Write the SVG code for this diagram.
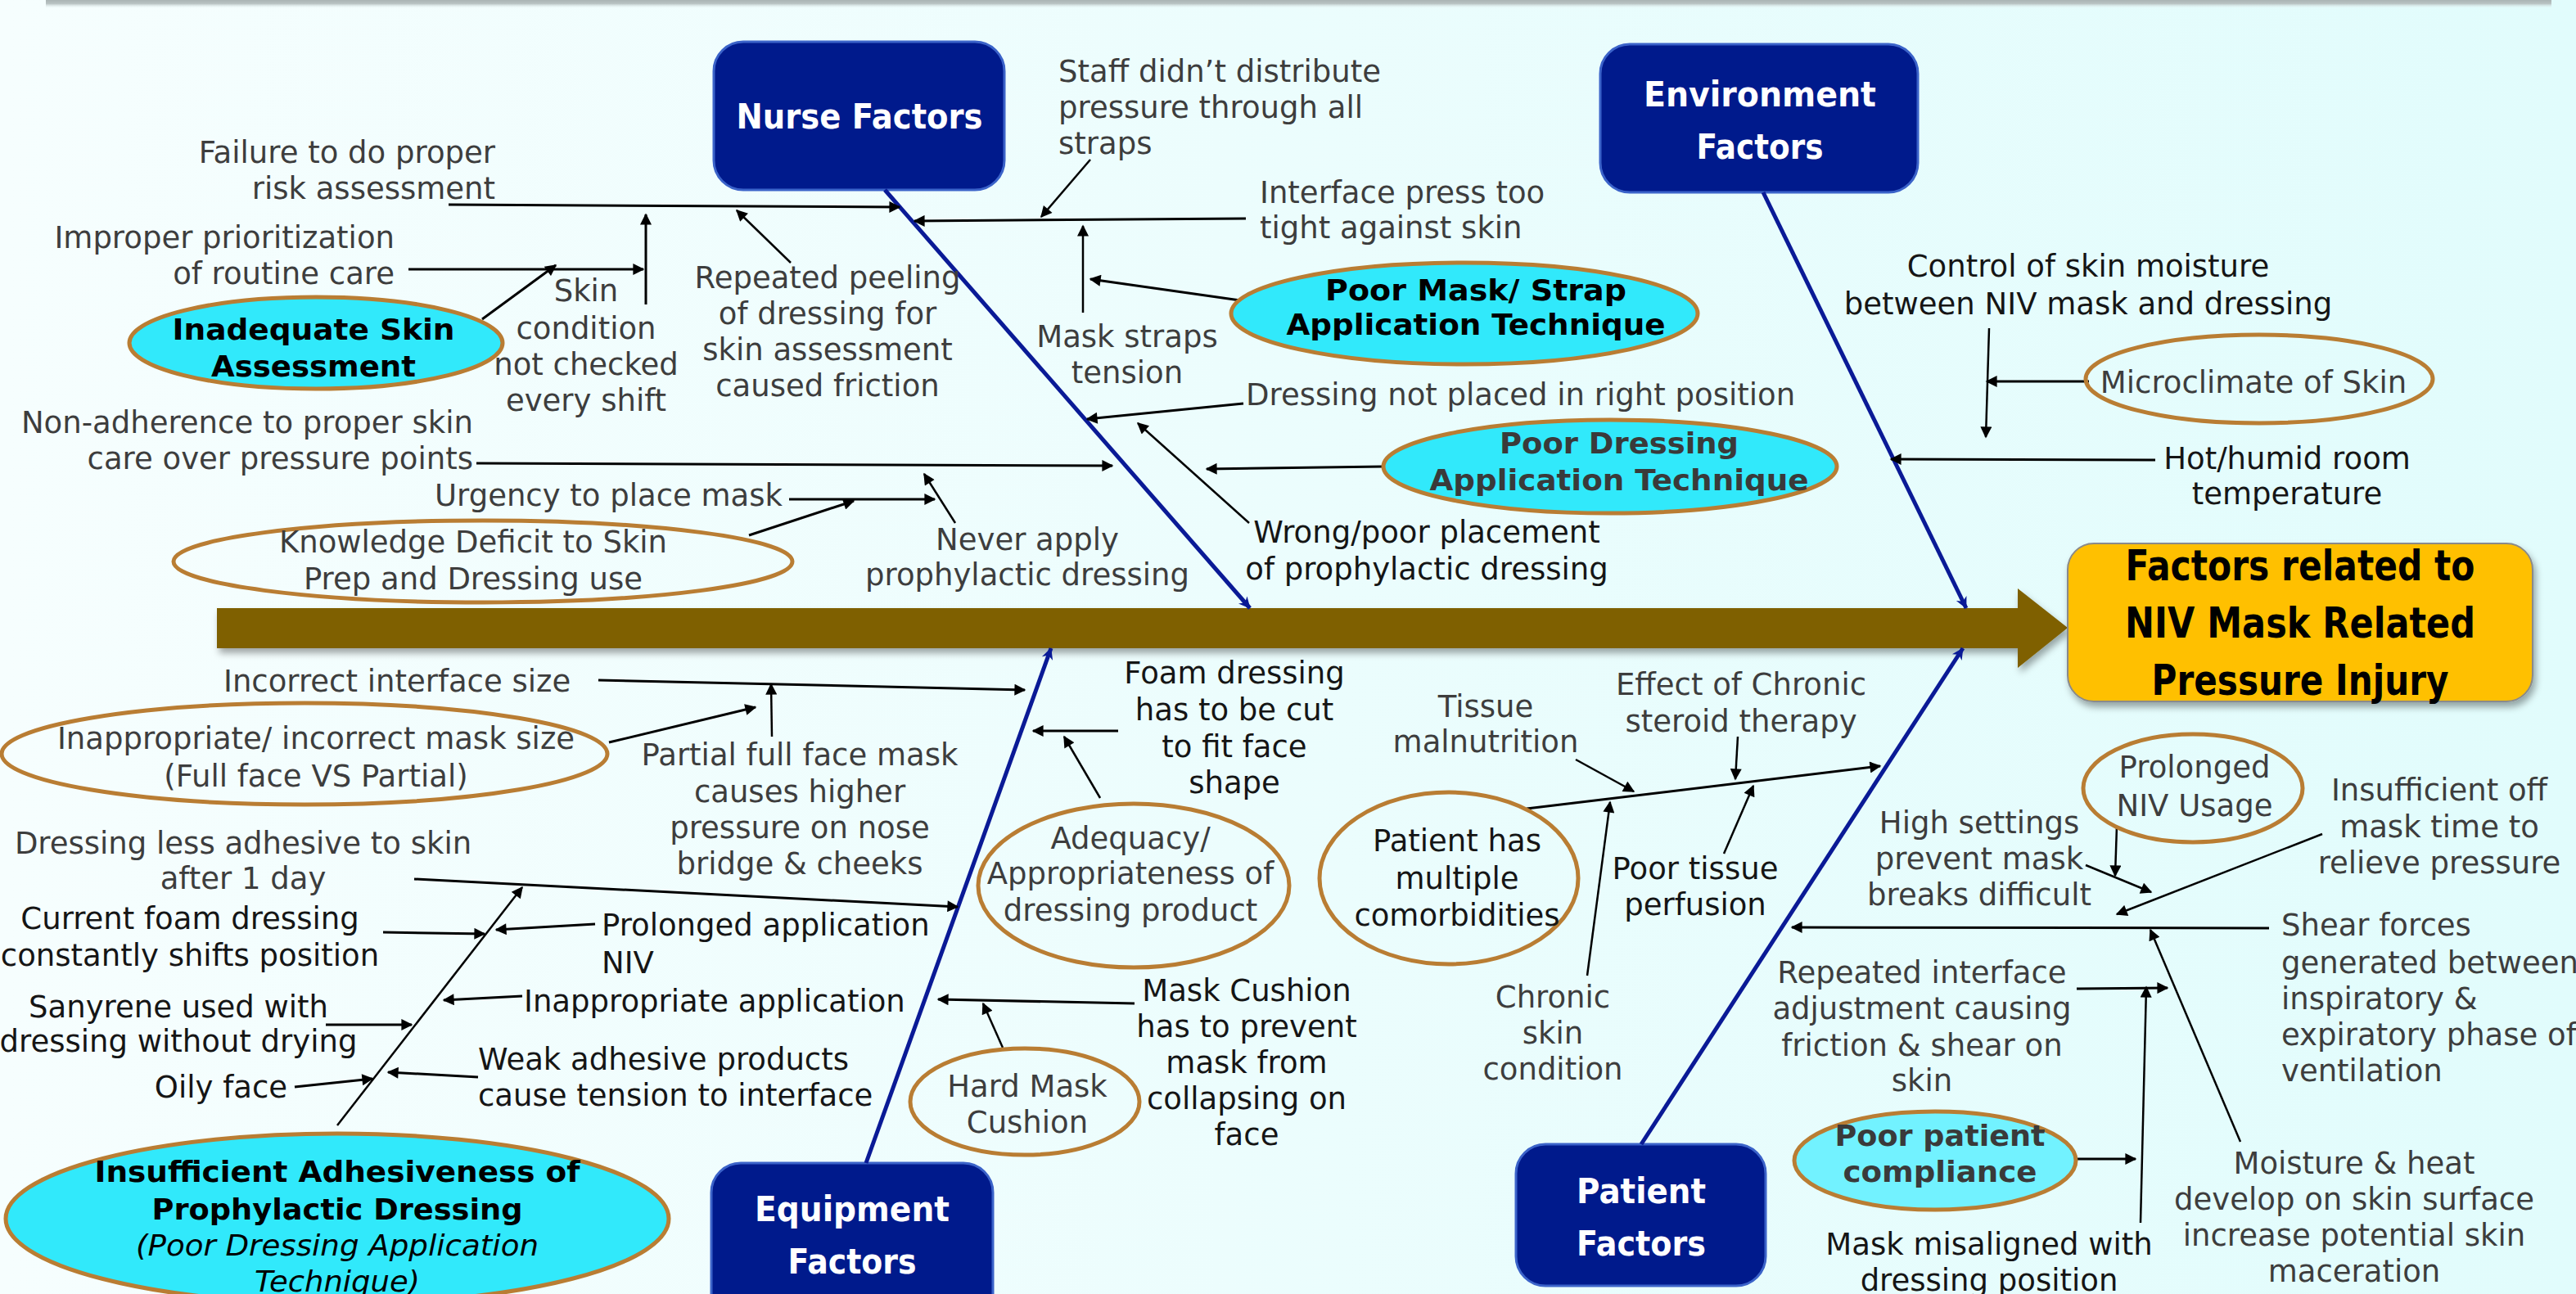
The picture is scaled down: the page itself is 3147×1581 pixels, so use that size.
<svg xmlns="http://www.w3.org/2000/svg" width="3147" height="1581" viewBox="0 0 3147 1581">
<defs>
<linearGradient id="bg" x1="0" y1="0" x2="1" y2="0">
<stop offset="0" stop-color="#F6FEFE"/>
<stop offset="1" stop-color="#E1FCFC"/>
</linearGradient>
<linearGradient id="topbar" x1="0" y1="0" x2="0" y2="1">
<stop offset="0" stop-color="#9EA8A8"/>
<stop offset="0.6" stop-color="#B8C2C2"/>
<stop offset="1" stop-color="#E8F6F6" stop-opacity="0"/>
</linearGradient>
<filter id="sh" x="-5%" y="-20%" width="110%" height="150%">
<feDropShadow dx="3" dy="6" stdDeviation="4" flood-color="#000" flood-opacity="0.35"/>
</filter>
<marker id="ah" viewBox="0 0 10 10" refX="9" refY="5" markerWidth="16" markerHeight="14" markerUnits="userSpaceOnUse" orient="auto">
<path d="M0,0 L10,5 L0,10 z" fill="#000"/>
</marker>
<marker id="bh" viewBox="0 0 10 10" refX="9.5" refY="5" markerWidth="18" markerHeight="14" markerUnits="userSpaceOnUse" orient="auto">
<path d="M0,0 L10,5 L0,10 L3,5 z" fill="#0A1A96"/>
</marker>
<style>
.t{font-family:"DejaVu Sans","Liberation Sans",sans-serif;font-size:37px;fill:#3D3D3D}
.k{fill:#151515}
.m{text-anchor:middle}
.e{text-anchor:end}
.b{font-family:"DejaVu Sans","Liberation Sans",sans-serif;font-weight:bold;font-size:36px;fill:#000;text-anchor:middle}
.bg2{fill:#3A3A3A}
.i{font-family:"DejaVu Sans","Liberation Sans",sans-serif;font-style:italic;font-size:36px;fill:#000;text-anchor:middle}
.cat{font-family:"DejaVu Sans","Liberation Sans",sans-serif;font-weight:bold;font-size:42px;fill:#FFF;text-anchor:middle}
.catbox{fill:#001A8C;stroke:#3B63C9;stroke-width:3}
.ln{stroke:#000;stroke-width:3;fill:none;marker-end:url(#ah)}
.thin{stroke-width:2.5}
.bone{stroke:#0A1A96;stroke-width:5;fill:none;marker-end:url(#bh)}
.elc{fill:#31E9FB;stroke:#B97D33;stroke-width:5}
.elo{fill:none;stroke:#B97D33;stroke-width:5}
.ell{fill:#72F2FF;stroke:#B97D33;stroke-width:5}
</style>
</defs>
<rect x="0" y="0" width="3147" height="1581" fill="url(#bg)"/>
<rect x="56" y="-4" width="3061" height="14" fill="url(#topbar)"/>

<g id="spine">
<polygon points="265,743 2465,743 2465,719 2526,767 2465,816 2465,792 265,792" fill="#7F6000" filter="url(#sh)"/>
</g>

<g id="effect">
<rect x="2526" y="664" width="568" height="193" rx="32" fill="#FFC000" stroke="#8A8A8A" stroke-width="2" filter="url(#sh)"/>
<text class="b" style="font-size:52px" x="2810" y="709" textLength="427" lengthAdjust="spacingAndGlyphs">Factors related to</text>
<text class="b" style="font-size:52px" x="2810" y="779" textLength="428" lengthAdjust="spacingAndGlyphs">NIV Mask Related</text>
<text class="b" style="font-size:52px" x="2810" y="849" textLength="363" lengthAdjust="spacingAndGlyphs">Pressure Injury</text>
</g>

<g id="nurse-factors">
<rect class="catbox" x="872" y="51" width="355" height="181" rx="36"/>
<text class="cat" x="1050" y="157" textLength="301" lengthAdjust="spacingAndGlyphs">Nurse Factors</text>
</g>
<g id="environment-factors">
<rect class="catbox" x="1955" y="54" width="388" height="181" rx="36"/>
<text class="cat" x="2150" y="130" textLength="284" lengthAdjust="spacingAndGlyphs">Environment</text>
<text class="cat" x="2150" y="194" textLength="155" lengthAdjust="spacingAndGlyphs">Factors</text>
</g>
<g id="equipment-factors">
<rect class="catbox" x="869" y="1421" width="344" height="200" rx="36"/>
<text class="cat" x="1041" y="1492" textLength="238" lengthAdjust="spacingAndGlyphs">Equipment</text>
<text class="cat" x="1041" y="1556" textLength="157" lengthAdjust="spacingAndGlyphs">Factors</text>
</g>
<g id="patient-factors">
<rect class="catbox" x="1852" y="1398" width="305" height="173" rx="36"/>
<text class="cat" x="2005" y="1470" textLength="158" lengthAdjust="spacingAndGlyphs">Patient</text>
<text class="cat" x="2005" y="1534" textLength="158" lengthAdjust="spacingAndGlyphs">Factors</text>
</g>

<g id="connectors">
<line class="bone" x1="1081" y1="232" x2="1527" y2="743"/>
<line class="bone" x1="2154" y1="235" x2="2402" y2="743"/>
<line class="bone" x1="1058" y1="1421" x2="1284" y2="792"/>
<line class="bone" x1="2005" y1="1398" x2="2398" y2="792"/>
<line class="ln" x1="548" y1="250" x2="1099" y2="253"/>
<line class="ln" x1="499" y1="329" x2="786" y2="329"/>
<line class="ln" x1="789" y1="372" x2="789" y2="262"/>
<line class="ln" x1="589" y1="390" x2="679" y2="324"/>
<line class="ln thin" x1="966" y1="321" x2="900" y2="257"/>
<line class="ln" x1="1522" y1="267" x2="1117" y2="270"/>
<line class="ln thin" x1="1332" y1="195" x2="1272" y2="265"/>
<line class="ln thin" x1="1323" y1="382" x2="1323" y2="276"/>
<line class="ln" x1="1522" y1="368" x2="1332" y2="341"/>
<line class="ln" x1="1519" y1="493" x2="1328" y2="512"/>
<line class="ln thin" x1="1526" y1="639" x2="1390" y2="517"/>
<line class="ln" x1="1690" y1="570" x2="1474" y2="573"/>
<line class="ln" x1="582" y1="566" x2="1359" y2="569"/>
<line class="ln" x1="964" y1="610" x2="1142" y2="610"/>
<line class="ln" x1="915" y1="654" x2="1043" y2="612"/>
<line class="ln thin" x1="1167" y1="639" x2="1129" y2="579"/>
<line class="ln thin" x1="2430" y1="401" x2="2426" y2="534"/>
<line class="ln" x1="2552" y1="466" x2="2427" y2="466"/>
<line class="ln" x1="2633" y1="562" x2="2310" y2="561"/>
<line class="ln" x1="731" y1="831" x2="1252" y2="843"/>
<line class="ln thin" x1="943" y1="900" x2="942" y2="836"/>
<line class="ln" x1="744" y1="907" x2="923" y2="864"/>
<line class="ln" x1="1366" y1="893" x2="1262" y2="893"/>
<line class="ln thin" x1="1344" y1="975" x2="1300" y2="900"/>
<line class="ln" x1="506" y1="1074" x2="1170" y2="1108"/>
<line class="ln thin" x1="412" y1="1375" x2="638" y2="1084"/>
<line class="ln" x1="468" y1="1139" x2="592" y2="1141"/>
<line class="ln" x1="727" y1="1129" x2="606" y2="1136"/>
<line class="ln" x1="398" y1="1252" x2="503" y2="1252"/>
<line class="ln" x1="638" y1="1217" x2="542" y2="1222"/>
<line class="ln" x1="360" y1="1328" x2="455" y2="1318"/>
<line class="ln" x1="584" y1="1316" x2="474" y2="1310"/>
<line class="ln" x1="1386" y1="1226" x2="1146" y2="1221"/>
<line class="ln thin" x1="1225" y1="1280" x2="1201" y2="1226"/>
<line class="ln thin" x1="1925" y1="928" x2="1996" y2="967"/>
<line class="ln" x1="1865" y1="988" x2="2297" y2="936"/>
<line class="ln thin" x1="2123" y1="900" x2="2120" y2="952"/>
<line class="ln thin" x1="2106" y1="1043" x2="2142" y2="960"/>
<line class="ln thin" x1="1939" y1="1192" x2="1967" y2="980"/>
<line class="ln thin" x1="2586" y1="1009" x2="2584" y2="1070"/>
<line class="ln thin" x1="2548" y1="1057" x2="2628" y2="1090"/>
<line class="ln thin" x1="2837" y1="1019" x2="2586" y2="1117"/>
<line class="ln" x1="2772" y1="1134" x2="2189" y2="1133"/>
<line class="ln thin" x1="2737" y1="1395" x2="2627" y2="1136"/>
<line class="ln" x1="2537" y1="1208" x2="2648" y2="1207"/>
<line class="ln thin" x1="2615" y1="1494" x2="2622" y2="1206"/>
<line class="ln" x1="2536" y1="1416" x2="2609" y2="1416"/>
</g>

<g id="failure-risk">
<text class="t e" x="605" y="199">Failure to do proper</text>
<text class="t e" x="605" y="243">risk assessment</text>
</g>
<g id="improper-prioritization">
<text class="t e" x="482" y="303">Improper prioritization</text>
<text class="t e" x="482" y="347">of routine care</text>
</g>
<g id="inadequate-skin-assessment">
<ellipse class="elc" cx="386" cy="419" rx="228" ry="56"/>
<text class="b" x="383" y="415" textLength="345" lengthAdjust="spacingAndGlyphs">Inadequate Skin</text>
<text class="b" x="383" y="460" textLength="250" lengthAdjust="spacingAndGlyphs">Assessment</text>
</g>
<g id="skin-not-checked">
<text class="t m" x="716" y="368">Skin</text>
<text class="t m" x="716" y="414">condition</text>
<text class="t m" x="716" y="458">not checked</text>
<text class="t m" x="716" y="502">every shift</text>
</g>
<g id="repeated-peeling">
<text class="t m" x="1011" y="352">Repeated peeling</text>
<text class="t m" x="1011" y="396">of dressing for</text>
<text class="t m" x="1011" y="440">skin assessment</text>
<text class="t m" x="1011" y="484">caused friction</text>
</g>
<g id="staff-straps">
<text class="t" x="1293" y="100">Staff didn’t distribute</text>
<text class="t" x="1293" y="144">pressure through all</text>
<text class="t" x="1293" y="188">straps</text>
</g>
<g id="interface-tight">
<text class="t" x="1539" y="248">Interface press too</text>
<text class="t" x="1539" y="291">tight against skin</text>
</g>
<g id="mask-straps-tension">
<text class="t m" x="1377" y="424">Mask straps</text>
<text class="t m" x="1377" y="468">tension</text>
</g>
<g id="poor-mask-strap">
<ellipse class="elc" cx="1789" cy="383" rx="285" ry="62"/>
<text class="b" style="font-size:35px" x="1803" y="367" textLength="368" lengthAdjust="spacingAndGlyphs">Poor Mask/ Strap</text>
<text class="b" style="font-size:35px" x="1803" y="409" textLength="463" lengthAdjust="spacingAndGlyphs">Application Technique</text>
</g>
<g id="dressing-not-placed">
<text class="t" x="1522" y="495">Dressing not placed in right position</text>
</g>
<g id="poor-dressing-technique">
<ellipse class="elc" cx="1967" cy="570" rx="277" ry="57"/>
<text class="b bg2" style="font-size:35px" x="1978" y="554" textLength="292" lengthAdjust="spacingAndGlyphs">Poor Dressing</text>
<text class="b bg2" style="font-size:35px" x="1978" y="599" textLength="463" lengthAdjust="spacingAndGlyphs">Application Technique</text>
</g>
<g id="wrong-placement">
<text class="t k m" x="1743" y="663">Wrong/poor placement</text>
<text class="t k m" x="1743" y="708">of prophylactic dressing</text>
</g>
<g id="non-adherence">
<text class="t e" x="578" y="529">Non-adherence to proper skin</text>
<text class="t e" x="578" y="573">care over pressure points</text>
</g>
<g id="urgency">
<text class="t" x="531" y="618">Urgency to place mask</text>
</g>
<g id="knowledge-deficit">
<ellipse class="elo" cx="590" cy="686" rx="378" ry="50"/>
<text class="t m" x="578" y="675">Knowledge Deficit to Skin</text>
<text class="t m" x="578" y="720">Prep and Dressing use</text>
</g>
<g id="never-apply">
<text class="t m" x="1255" y="672">Never apply</text>
<text class="t m" x="1255" y="715">prophylactic dressing</text>
</g>

<g id="control-moisture">
<text class="t k m" x="2551" y="338">Control of skin moisture</text>
<text class="t k m" x="2551" y="384">between NIV mask and dressing</text>
</g>
<g id="microclimate">
<ellipse class="elo" cx="2760" cy="463" rx="212" ry="54"/>
<text class="t m" x="2753" y="480">Microclimate of Skin</text>
</g>
<g id="hot-humid">
<text class="t k m" x="2794" y="573">Hot/humid room</text>
<text class="t k m" x="2794" y="616">temperature</text>
</g>

<g id="incorrect-interface">
<text class="t" x="273" y="845">Incorrect interface size</text>
</g>
<g id="inappropriate-mask-size">
<ellipse class="elo" cx="372" cy="921" rx="370" ry="62"/>
<text class="t m" x="386" y="915">Inappropriate/ incorrect mask size</text>
<text class="t m" x="386" y="961">(Full face VS Partial)</text>
</g>
<g id="partial-full-face">
<text class="t m" x="977" y="935">Partial full face mask</text>
<text class="t m" x="977" y="980">causes higher</text>
<text class="t m" x="977" y="1024">pressure on nose</text>
<text class="t m" x="977" y="1068">bridge &amp; cheeks</text>
</g>
<g id="foam-cut">
<text class="t k m" x="1508" y="835">Foam dressing</text>
<text class="t k m" x="1508" y="880">has to be cut</text>
<text class="t k m" x="1508" y="925">to fit face</text>
<text class="t k m" x="1508" y="969">shape</text>
</g>
<g id="adequacy">
<ellipse class="elo" cx="1385" cy="1082" rx="190" ry="100"/>
<text class="t m" x="1381" y="1037">Adequacy/</text>
<text class="t m" x="1381" y="1080">Appropriateness of</text>
<text class="t m" x="1381" y="1125">dressing product</text>
</g>
<g id="less-adhesive">
<text class="t m" x="297" y="1043">Dressing less adhesive to skin</text>
<text class="t m" x="297" y="1086">after 1 day</text>
</g>
<g id="foam-shifts">
<text class="t k m" x="232" y="1135">Current foam dressing</text>
<text class="t k m" x="232" y="1180">constantly shifts position</text>
</g>
<g id="prolonged-application">
<text class="t k" x="735" y="1143">Prolonged application</text>
<text class="t k" x="735" y="1189">NIV</text>
</g>
<g id="sanyrene">
<text class="t k m" x="218" y="1243">Sanyrene used with</text>
<text class="t k m" x="218" y="1285">dressing without drying</text>
</g>
<g id="inappropriate-application">
<text class="t k" x="640" y="1236">Inappropriate application</text>
</g>
<g id="oily-face">
<text class="t k e" x="351" y="1341">Oily face</text>
</g>
<g id="weak-adhesive">
<text class="t k" x="584" y="1307">Weak adhesive products</text>
<text class="t k" x="584" y="1351">cause tension to interface</text>
</g>
<g id="insufficient-adhesiveness">
<ellipse class="elc" cx="412" cy="1489" rx="405" ry="104"/>
<text class="b" x="412" y="1444" textLength="593" lengthAdjust="spacingAndGlyphs">Insufficient Adhesiveness of</text>
<text class="b" x="412" y="1490" textLength="453" lengthAdjust="spacingAndGlyphs">Prophylactic Dressing</text>
<text class="i" x="412" y="1534" textLength="492" lengthAdjust="spacingAndGlyphs">(Poor Dressing Application</text>
<text class="i" x="412" y="1578" textLength="202" lengthAdjust="spacingAndGlyphs">Technique)</text>
</g>
<g id="mask-cushion">
<text class="t k m" x="1523" y="1223">Mask Cushion</text>
<text class="t k m" x="1523" y="1267">has to prevent</text>
<text class="t k m" x="1523" y="1311">mask from</text>
<text class="t k m" x="1523" y="1355">collapsing on</text>
<text class="t k m" x="1523" y="1399">face</text>
</g>
<g id="hard-mask-cushion">
<ellipse class="elo" cx="1252" cy="1346" rx="140" ry="65"/>
<text class="t m" x="1255" y="1340">Hard Mask</text>
<text class="t m" x="1255" y="1384">Cushion</text>
</g>

<g id="tissue-malnutrition">
<text class="t m" x="1815" y="876">Tissue</text>
<text class="t m" x="1815" y="919">malnutrition</text>
</g>
<g id="steroid">
<text class="t m" x="2127" y="849">Effect of Chronic</text>
<text class="t m" x="2127" y="894">steroid therapy</text>
</g>
<g id="poor-perfusion">
<text class="t k m" x="2071" y="1074">Poor tissue</text>
<text class="t k m" x="2071" y="1118">perfusion</text>
</g>
<g id="comorbidities">
<ellipse class="elo" cx="1770" cy="1073" rx="158" ry="105"/>
<text class="t k m" x="1780" y="1040">Patient has</text>
<text class="t k m" x="1780" y="1086">multiple</text>
<text class="t k m" x="1780" y="1131">comorbidities</text>
</g>
<g id="chronic-skin">
<text class="t m" x="1897" y="1231">Chronic</text>
<text class="t m" x="1897" y="1275">skin</text>
<text class="t m" x="1897" y="1319">condition</text>
</g>
<g id="prolonged-niv">
<ellipse class="elo" cx="2679" cy="963" rx="134" ry="66"/>
<text class="t m" x="2681" y="950">Prolonged</text>
<text class="t m" x="2681" y="997">NIV Usage</text>
</g>
<g id="high-settings">
<text class="t m" x="2418" y="1018">High settings</text>
<text class="t m" x="2418" y="1062">prevent mask</text>
<text class="t m" x="2418" y="1106">breaks difficult</text>
</g>
<g id="insufficient-off">
<text class="t m" x="2980" y="978">Insufficient off</text>
<text class="t m" x="2980" y="1023">mask time to</text>
<text class="t m" x="2980" y="1067">relieve pressure</text>
</g>
<g id="shear-forces">
<text class="t" x="2787" y="1143">Shear forces</text>
<text class="t" x="2787" y="1189">generated between</text>
<text class="t" x="2787" y="1233">inspiratory &amp;</text>
<text class="t" x="2787" y="1277">expiratory phase of</text>
<text class="t" x="2787" y="1321">ventilation</text>
</g>
<g id="repeated-interface">
<text class="t m" x="2348" y="1201">Repeated interface</text>
<text class="t m" x="2348" y="1245">adjustment causing</text>
<text class="t m" x="2348" y="1290">friction &amp; shear on</text>
<text class="t m" x="2348" y="1333">skin</text>
</g>
<g id="poor-compliance">
<ellipse class="ell" cx="2364" cy="1418" rx="172" ry="60"/>
<text class="b bg2" style="font-size:35px" x="2370" y="1400" textLength="257" lengthAdjust="spacingAndGlyphs">Poor patient</text>
<text class="b bg2" style="font-size:35px" x="2370" y="1444" textLength="237" lengthAdjust="spacingAndGlyphs">compliance</text>
</g>
<g id="mask-misaligned">
<text class="t k m" x="2430" y="1533">Mask misaligned with</text>
<text class="t k m" x="2430" y="1577">dressing position</text>
</g>
<g id="moisture-heat">
<text class="t m" x="2876" y="1434">Moisture &amp; heat</text>
<text class="t m" x="2876" y="1478">develop on skin surface</text>
<text class="t m" x="2876" y="1522">increase potential skin</text>
<text class="t m" x="2876" y="1566">maceration</text>
</g>
</svg>
